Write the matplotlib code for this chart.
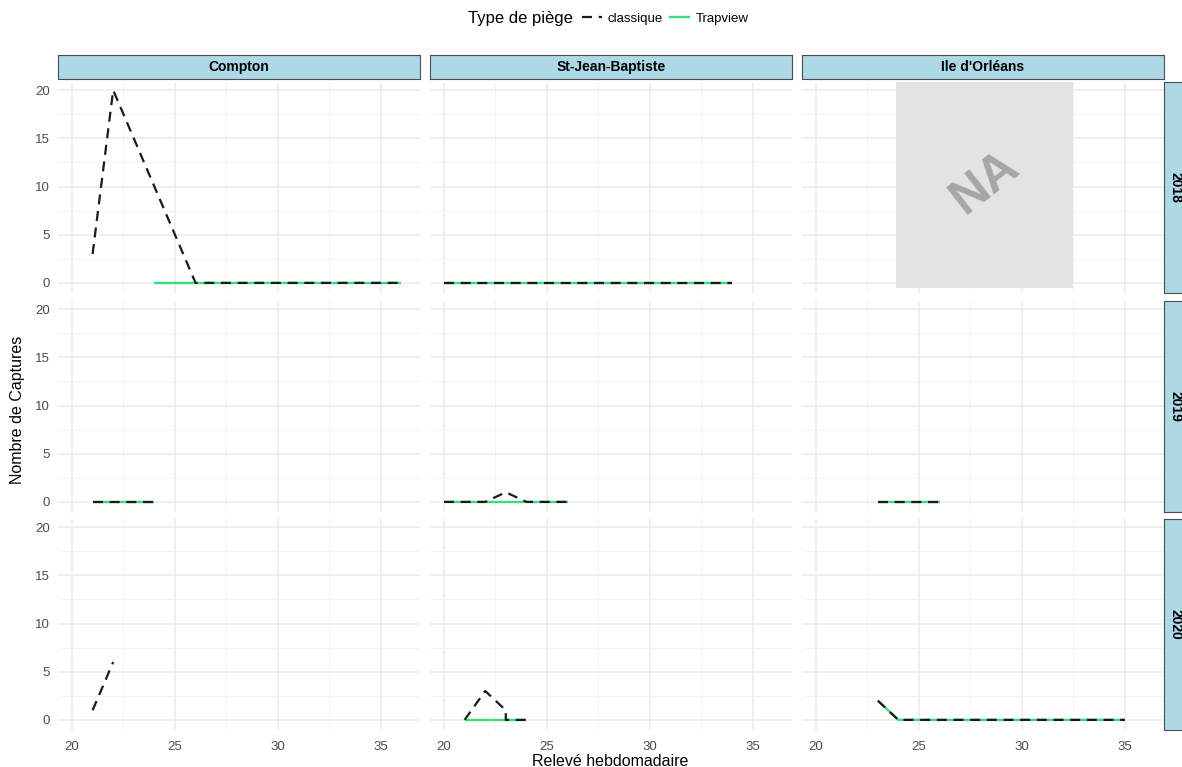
import matplotlib
matplotlib.use("Agg")
import matplotlib.pyplot as plt
from matplotlib.lines import Line2D

plt.rcParams['font.family'] = ['Liberation Sans', 'DejaVu Sans']

sites = ["Compton", "St-Jean-Baptiste", "Ile d'Orléans"]
years = ["2018", "2019", "2020"]

# (site, year) -> (weeks, captures)
classique = {
    ("Compton", "2018"): ([21, 22, 23, 24, 25, 26, 27, 28, 29, 30, 31, 32, 33, 34, 35, 36],
                          [3, 20, 15, 10, 5, 0, 0, 0, 0, 0, 0, 0, 0, 0, 0, 0]),
    ("St-Jean-Baptiste", "2018"): (list(range(20, 35)), [0] * 15),
    ("Compton", "2019"): ([21, 22, 23, 24], [0, 0, 0, 0]),
    ("St-Jean-Baptiste", "2019"): ([20, 21, 22, 23, 24, 25, 26], [0, 0, 0, 1, 0, 0, 0]),
    ("Ile d'Orléans", "2019"): ([23, 24, 25, 26], [0, 0, 0, 0]),
    ("Compton", "2020"): ([21, 22], [1, 6]),
    ("St-Jean-Baptiste", "2020"): ([21, 22, 23, 23, 24], [0, 3, 1, 0, 0]),
    ("Ile d'Orléans", "2020"): (list(range(23, 36)), [2] + [0] * 12),
}
trapview = {
    ("Compton", "2018"): (list(range(24, 37)), [0] * 13),
    ("St-Jean-Baptiste", "2018"): (list(range(20, 35)), [0] * 15),
    ("Compton", "2019"): ([21, 22, 23, 24], [0, 0, 0, 0]),
    ("St-Jean-Baptiste", "2019"): (list(range(20, 27)), [0] * 7),
    ("Ile d'Orléans", "2019"): ([23, 24, 25, 26], [0, 0, 0, 0]),
    ("St-Jean-Baptiste", "2020"): ([21, 22, 23, 24], [0, 0, 0, 0]),
    ("Ile d'Orléans", "2020"): (list(range(23, 36)), [2] + [0] * 12),
}
missing = ("Ile d'Orléans", "2018")  # pas de données

W, H = 1182, 767
fig = plt.figure(figsize=(W / 100, H / 100), dpi=100)

def box(x0, y0, w, h):
    return [x0 / W, 1 - (y0 + h) / H, w / W, h / H]

green = '#3ddc7a'
dark = '#1a1a1a'
strip_col = '#add8e6'
col_x = [58, 430, 802]
row_y = [82, 301, 519]
pw, ph = 362, 211

for i, yr in enumerate(years):
    for j, site in enumerate(sites):
        ax = fig.add_axes(box(col_x[j], row_y[i], pw, ph))
        ax.set_xlim(19.32, 36.9)
        ax.set_ylim(-1.05, 20.85)
        ax.set_xticks([20, 25, 30, 35])
        ax.set_xticks([22.5, 27.5, 32.5], minor=True)
        ax.set_yticks([0, 5, 10, 15, 20])
        ax.set_yticks([2.5, 7.5, 12.5, 17.5], minor=True)
        ax.grid(which='major', color='#ebebeb', lw=1.1)
        ax.grid(which='minor', color='#f3f3f3', lw=0.6)
        ax.set_axisbelow(True)
        for s in ax.spines.values():
            s.set_visible(False)
        ax.tick_params(which='both', length=0, colors='#4d4d4d', labelsize=9.5, pad=6)
        ax.tick_params(axis='x', pad=8)
        if j > 0:
            ax.set_yticklabels([])
        if i < 2:
            ax.set_xticklabels([])
        key = (site, yr)
        if key in trapview:
            x, y = trapview[key]
            ax.plot(x, y, color=green, lw=1.7, solid_capstyle='butt')
        if key in classique:
            x, y = classique[key]
            ax.plot(x, y, color=dark, lw=1.6, ls=(0, (4.5, 3)))
        if key == missing:
            ax.fill_between([23.9, 32.5], -0.5, 20.8, color='#e3e3e3', lw=0)
            ax.text(28.2, 10.4, "NA", fontsize=36, fontweight='bold', color='#a6a6a6',
                    rotation=38, ha='center', va='center')
        if j == 2:
            sax = fig.add_axes(box(1164, row_y[i], 24, ph))
            sax.set_xticks([]); sax.set_yticks([])
            sax.set_facecolor(strip_col)
            for s in sax.spines.values():
                s.set_color('#4d4d4d'); s.set_linewidth(0.8)
            sax.text(0.47, 0.5, yr, rotation=-90, ha='center', va='center',
                     fontsize=10, fontweight='bold', transform=sax.transAxes)

for j, site in enumerate(sites):
    sax = fig.add_axes(box(col_x[j], 55, pw, 24))
    sax.set_xticks([]); sax.set_yticks([])
    sax.set_facecolor(strip_col)
    for s in sax.spines.values():
        s.set_color('#4d4d4d'); s.set_linewidth(0.8)
    sax.text(0.5, 0.5, site, ha='center', va='center', fontsize=10,
             fontweight='bold', transform=sax.transAxes)

fig.text(610 / W, 1 - 761 / H, "Relevé hebdomadaire", ha='center', va='center', fontsize=11.5)
fig.text(18 / W, 1 - 410 / H, "Nombre de Captures", ha='center', va='center',
         fontsize=11.5, rotation=90)

handles = [Line2D([], [], color=dark, lw=1.6, ls=(0, (4.5, 3))),
           Line2D([], [], color=green, lw=1.7)]
fig.legend(handles, ['classique', 'Trapview'], loc='center left', ncol=2,
           bbox_to_anchor=(582 / W, 1 - 19 / H), frameon=False, fontsize=9.5,
           handlelength=1.5, handletextpad=0.45, columnspacing=0.5, borderpad=0,
           borderaxespad=0)
fig.text(468 / W, 1 - 19 / H, "Type de piège", ha='left', va='center', fontsize=12)

fig.savefig("out.png", dpi=100)
